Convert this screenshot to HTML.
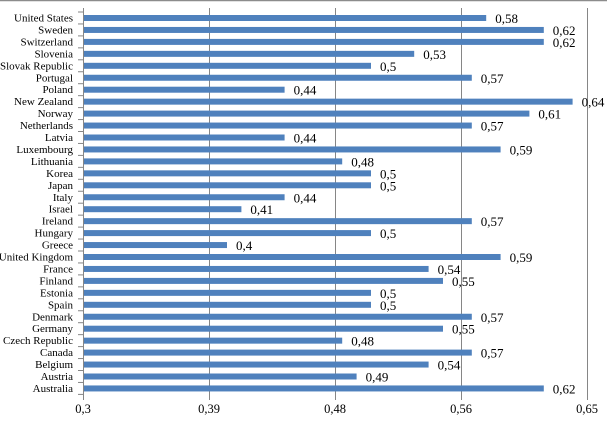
<!DOCTYPE html>
<html><head><meta charset="utf-8"><style>
html,body{margin:0;padding:0;background:#fff;}
svg{display:block;}
svg text{font-family:"Liberation Serif","DejaVu Serif",serif !important;font-size:11px;fill:#000;}
svg text.v{font-size:13px;}
svg text.ax{font-size:12.5px;}
</style></head><body>
<svg width="607" height="426" viewBox="0 0 607 426" xmlns="http://www.w3.org/2000/svg">
<line x1="0" y1="0.5" x2="607" y2="0.5" stroke="#8c8c8c" stroke-width="1.5"/>
<g stroke="#868686" stroke-width="1">
<line x1="209.5" y1="8" x2="209.5" y2="400"/>
<line x1="335.5" y1="8" x2="335.5" y2="400"/>
<line x1="461.5" y1="8" x2="461.5" y2="400"/>
<line x1="587.5" y1="8" x2="587.5" y2="400"/>
<line x1="83.5" y1="8" x2="83.5" y2="400"/>
</g>
<g id="ticks" stroke="#868686"></g>
<g id="bars"></g>
<g text-anchor="middle">
<text class="ax" x="83" y="413">0,3</text>
<text class="ax" x="209" y="413">0,39</text>
<text class="ax" x="335" y="413">0,48</text>
<text class="ax" x="461" y="413">0,56</text>
<text class="ax" x="587" y="413">0,65</text>
</g>
<script>
var d=[["United States",0.58],["Sweden",0.62],["Switzerland",0.62],["Slovenia",0.53],["Slovak Republic",0.5],["Portugal",0.57],["Poland",0.44],["New Zealand",0.64],["Norway",0.61],["Netherlands",0.57],["Latvia",0.44],["Luxembourg",0.59],["Lithuania",0.48],["Korea",0.5],["Japan",0.5],["Italy",0.44],["Israel",0.41],["Ireland",0.57],["Hungary",0.5],["Greece",0.4],["United Kingdom",0.59],["France",0.54],["Finland",0.55],["Estonia",0.5],["Spain",0.5],["Denmark",0.57],["Germany",0.55],["Czech Republic",0.48],["Canada",0.57],["Belgium",0.54],["Austria",0.49],["Australia",0.62]];
var ns="http://www.w3.org/2000/svg",g=document.getElementById("bars"),t=document.getElementById("ticks");
function el(n,a,p,txt){var e=document.createElementNS(ns,n);for(var k in a)e.setAttribute(k,a[k]);if(txt)e.textContent=txt;p.appendChild(e);}
for(var i=0;i<=32;i++){var ty=12+i*11.95;el("line",{x1:78,x2:83,y1:ty,y2:ty},t);}
d.forEach(function(r,i){var y=18+i*11.95;var x=83+(r[1]-0.3)*1440;
el("rect",{x:84,y:y-3,width:x-84,height:6,fill:"#4f81bd"},g);
el("text",{x:73,y:y+3.5,"text-anchor":"end"},g,r[0]);
el("text",{x:x+9,y:y+5,"class":"v"},g,String(r[1]).replace(".",","));});
</script>
</svg>
</body></html>
